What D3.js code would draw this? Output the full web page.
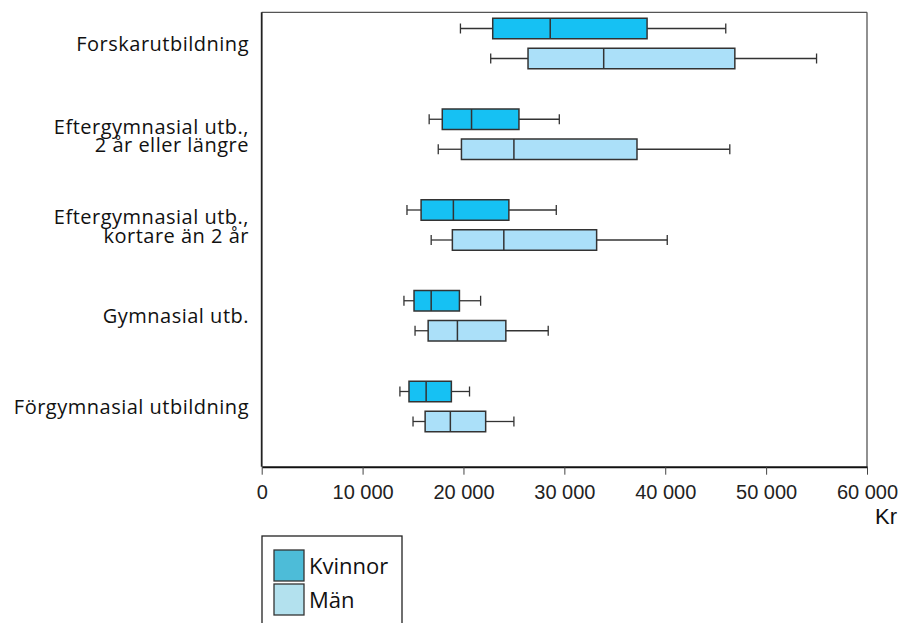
<!DOCTYPE html>
<html><head><meta charset="utf-8">
<script src="https://cdn.jsdelivr.net/npm/d3@7"></script>
<style>body{margin:0;background:#fff}svg{display:block}</style>
</head><body>
<svg id="c" width="903" height="623"></svg>
<script>
const categories = [
  ["Forskarutbildning"],
  ["Eftergymnasial utb.,", "2 år eller längre"],
  ["Eftergymnasial utb.,", "kortare än 2 år"],
  ["Gymnasial utb."],
  ["Förgymnasial utbildning"]
];
// [min, Q1, median, Q3, max]
const kvinnor = [
  [19700, 22900, 28600, 38200, 46000],
  [16600, 17900, 20800, 25500, 29500],
  [14400, 15800, 19000, 24500, 29200],
  [14100, 15100, 16800, 19600, 21700],
  [13700, 14600, 16300, 18800, 20600]
];
const man = [
  [22700, 26400, 33900, 46900, 55000],
  [17500, 19800, 25000, 37200, 46400],
  [16800, 18900, 24000, 33200, 40200],
  [15200, 16500, 19400, 24200, 28400],
  [15000, 16200, 18700, 22200, 25000]
];
const xTicks = [0, 10000, 20000, 30000, 40000, 50000, 60000];
const tickLabels = ["0", "10 000", "20 000", "30 000", "40 000", "50 000", "60 000"];
const seriesNames = ["Kvinnor", "Män"];
const unitLabel = "Kr";

const svg = d3.select("#c");
const L = 261.7, R = 867, T = 12.3, B = 466.7;
const x = d3.scaleLinear().domain([0, 60000]).range([L, R]);
const y = d3.scalePoint().domain(d3.range(categories.length)).range([43.5, 406.5]);
const fills = ["#16c1f3", "#abe0f9"];
const legendFills = ["#4dbcd8", "#b3e1ee"];
const offsets = [-15, 15];
const bh = 20.5, capH = 10;
const labelFont = "'Open Sans', sans-serif";

// frame
svg.append("line").attr("x1", L).attr("x2", R).attr("y1", T).attr("y2", T).attr("stroke", "#555").attr("stroke-width", 1.3);
svg.append("line").attr("x1", R).attr("x2", R).attr("y1", T).attr("y2", B).attr("stroke", "#555").attr("stroke-width", 1.3);
svg.append("line").attr("x1", L).attr("x2", L).attr("y1", T).attr("y2", B).attr("stroke", "#222").attr("stroke-width", 1.8);

// axis
const axis = d3.axisBottom(x).tickValues(xTicks).tickFormat((d, i) => tickLabels[i]).tickSizeOuter(0).tickSizeInner(8).tickPadding(10);
const ag = svg.append("g").attr("transform", `translate(0,${B})`).call(axis);
ag.select(".domain").attr("stroke", "#111").attr("stroke-width", 2);
ag.selectAll(".tick line").attr("stroke", "#444").attr("stroke-width", 1);
ag.selectAll(".tick text").attr("font-family", "'Liberation Sans', Arial, sans-serif").attr("font-size", 20).attr("fill", "#222");
svg.append("text").attr("x", 897).attr("y", 524).attr("text-anchor", "end")
  .attr("font-family", "'Liberation Sans', Arial, sans-serif").attr("font-size", 22).attr("fill", "#111").text(unitLabel);

// boxes
[kvinnor, man].forEach((series, s) => {
  const g = svg.append("g");
  series.forEach((d, i) => {
    const cy = y(i) + offsets[s];
    const [mn, q1, md, q3, mx] = d;
    g.append("line").attr("x1", x(mn)).attr("x2", x(q1)).attr("y1", cy).attr("y2", cy).attr("stroke", "#333").attr("stroke-width", 1.3);
    g.append("line").attr("x1", x(q3)).attr("x2", x(mx)).attr("y1", cy).attr("y2", cy).attr("stroke", "#333").attr("stroke-width", 1.3);
    [mn, mx].forEach(v => g.append("line").attr("x1", x(v)).attr("x2", x(v)).attr("y1", cy - capH / 2).attr("y2", cy + capH / 2).attr("stroke", "#333").attr("stroke-width", 1.3));
    g.append("rect").attr("x", x(q1)).attr("y", cy - bh / 2).attr("width", x(q3) - x(q1)).attr("height", bh)
      .attr("fill", fills[s]).attr("stroke", "#333").attr("stroke-width", 1.5);
    g.append("line").attr("x1", x(md)).attr("x2", x(md)).attr("y1", cy - bh / 2).attr("y2", cy + bh / 2).attr("stroke", "#333").attr("stroke-width", 1.5);
  });
});

// category labels
categories.forEach((lines, i) => {
  const cy = y(i);
  const n = lines.length;
  const t = svg.append("text").attr("text-anchor", "end")
    .attr("font-family", labelFont).attr("font-size", 20).attr("letter-spacing", 0.5).attr("fill", "#111");
  lines.forEach((s, j) => {
    const lc = cy + (j - (n - 1) / 2) * 18.5 + (n > 1 ? 1.5 : 0);
    t.append("tspan").attr("x", 249).attr("y", lc + 7).text(s);
  });
});

// legend
const lg = svg.append("g");
lg.append("rect").attr("x", 262).attr("y", 536).attr("width", 140).attr("height", 100).attr("fill", "none").attr("stroke", "#222").attr("stroke-width", 1.3);
seriesNames.forEach((n, i) => {
  const sy = 550 + i * 34;
  lg.append("rect").attr("x", 274).attr("y", sy).attr("width", 30).attr("height", 31).attr("fill", legendFills[i]).attr("stroke", "#333").attr("stroke-width", 1.3);
  lg.append("text").attr("x", 309).attr("y", sy + 24).attr("font-family", labelFont).attr("font-size", 22).attr("fill", "#111").text(n);
});
</script>
</body></html>
